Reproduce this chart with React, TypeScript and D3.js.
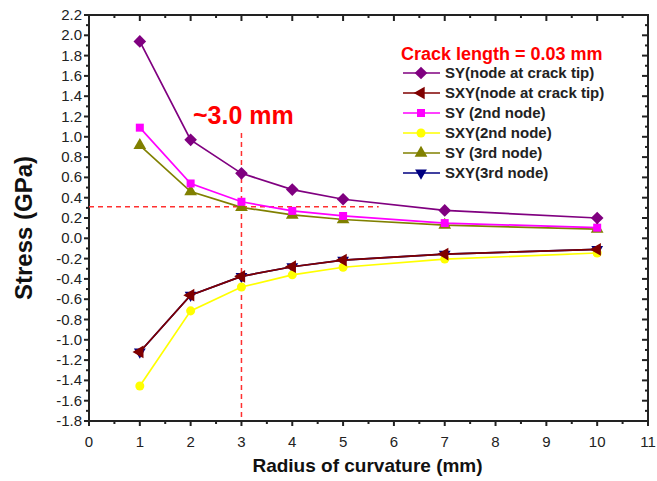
import React, { useEffect, useRef } from 'react';
import * as d3 from 'd3';

// radius of curvature (mm)
const radius = [1, 2, 3, 4, 5, 7, 10];

// stress values (GPa)
const syTip = [1.94, 0.97, 0.64, 0.48, 0.385, 0.275, 0.2];
const sxyTip = [-1.12, -0.56, -0.375, -0.28, -0.215, -0.155, -0.11];
const sy2nd = [1.09, 0.54, 0.36, 0.27, 0.22, 0.15, 0.105];
const sxy2nd = [-1.455, -0.715, -0.48, -0.36, -0.285, -0.205, -0.145];
const sy3rd = [0.915, 0.46, 0.305, 0.23, 0.185, 0.13, 0.09];
const sxy3rd = [-1.12, -0.56, -0.375, -0.28, -0.215, -0.155, -0.11];

const xTicks = [0, 1, 2, 3, 4, 5, 6, 7, 8, 9, 10, 11];
const yTicks = [
  2.2, 2.0, 1.8, 1.6, 1.4, 1.2, 1.0, 0.8, 0.6, 0.4, 0.2, 0.0,
  -0.2, -0.4, -0.6, -0.8, -1.0, -1.2, -1.4, -1.6, -1.8,
];

const cutoffRadius = 3.0;
const cutoffStress = 0.31;
const cutoffLineEnd = 5.7;

type Marker = 'diamond' | 'triLeft' | 'square' | 'circle' | 'triUp' | 'triDown';

interface Series {
  name: string;
  values: number[];
  color: string;
  marker: Marker;
}

const series: Series[] = [
  { name: 'SY(node at crack tip)', values: syTip, color: '#800080', marker: 'diamond' },
  { name: 'SXY(node at crack tip)', values: sxyTip, color: '#800000', marker: 'triLeft' },
  { name: 'SY (2nd node)', values: sy2nd, color: '#ff00ff', marker: 'square' },
  { name: 'SXY(2nd node)', values: sxy2nd, color: '#ffff00', marker: 'circle' },
  { name: 'SY (3rd node)', values: sy3rd, color: '#808000', marker: 'triUp' },
  { name: 'SXY(3rd node)', values: sxy3rd, color: '#000080', marker: 'triDown' },
];

// draw order: navy sits behind the dark red series
const drawOrder = [5, 3, 1, 4, 2, 0];

const markerPath = (m: Marker) => {
  switch (m) {
    case 'diamond':
      return { d: d3.symbol(d3.symbolSquare, 80)()!, rot: 45 };
    case 'square':
      return { d: d3.symbol(d3.symbolSquare, 64)()!, rot: 0 };
    case 'circle':
      return { d: d3.symbol(d3.symbolCircle, 64)()!, rot: 0 };
    case 'triUp':
      return { d: d3.symbol(d3.symbolTriangle, 70)()!, rot: 0 };
    case 'triDown':
      return { d: d3.symbol(d3.symbolTriangle, 60)()!, rot: 180 };
    case 'triLeft':
      return { d: d3.symbol(d3.symbolTriangle, 70)()!, rot: -90 };
  }
};

const width = 657;
const height = 481;

const Chart: React.FC = () => {
  const svgRef = useRef<SVGSVGElement>(null);

  useEffect(() => {
    if (!svgRef.current) return;
    const svg = d3.select(svgRef.current);
    svg.selectAll('*').remove();

    const left = 89, right = 648, top = 15, bottom = 421;
    const font = 'Arial, "Liberation Sans", sans-serif';
    const axisColor = '#222';

    const x = d3.scaleLinear().domain([0, 11]).range([left, right]);
    const y = d3.scaleLinear().domain([-1.8, 2.2]).range([bottom, top]);

    const fmt = (v: number) => (Math.abs(v) < 1e-9 ? '0.0' : v.toFixed(1));

    // minor ticks
    const xMinor = xTicks.slice(0, -1).map(v => v + 0.5);
    const yMinor = yTicks.slice(0, -1).map(v => v - 0.1);

    const ax = svg.append('g').attr('stroke', axisColor);
    xTicks.forEach(v => {
      ax.append('line').attr('x1', x(v)).attr('x2', x(v)).attr('y1', bottom).attr('y2', bottom + 5).attr('stroke-width', 2);
      ax.append('line').attr('x1', x(v)).attr('x2', x(v)).attr('y1', top).attr('y2', top + 6).attr('stroke-width', 2);
    });
    xMinor.forEach(v => {
      ax.append('line').attr('x1', x(v)).attr('x2', x(v)).attr('y1', bottom).attr('y2', bottom + 3).attr('stroke-width', 2);
      ax.append('line').attr('x1', x(v)).attr('x2', x(v)).attr('y1', top).attr('y2', top + 3).attr('stroke-width', 2);
    });
    yTicks.forEach(v => {
      ax.append('line').attr('x1', left - 5).attr('x2', left).attr('y1', y(v)).attr('y2', y(v)).attr('stroke-width', 2);
      ax.append('line').attr('x1', right - 6).attr('x2', right).attr('y1', y(v)).attr('y2', y(v)).attr('stroke-width', 2);
    });
    yMinor.forEach(v => {
      ax.append('line').attr('x1', left - 3).attr('x2', left).attr('y1', y(v)).attr('y2', y(v)).attr('stroke-width', 2);
      ax.append('line').attr('x1', right - 3).attr('x2', right).attr('y1', y(v)).attr('y2', y(v)).attr('stroke-width', 2);
    });
    ax.append('rect')
      .attr('x', left).attr('y', top)
      .attr('width', right - left).attr('height', bottom - top)
      .attr('fill', 'none').attr('stroke-width', 2);

    // tick labels
    svg.append('g')
      .selectAll('text')
      .data(xTicks)
      .enter()
      .append('text')
      .attr('x', d => x(d))
      .attr('y', bottom + 26)
      .attr('text-anchor', 'middle')
      .attr('font-family', font)
      .attr('font-size', 15)
      .attr('fill', '#222')
      .text(d => String(d));

    svg.append('g')
      .selectAll('text')
      .data(yTicks)
      .enter()
      .append('text')
      .attr('x', left - 7)
      .attr('y', d => y(d) + 5)
      .attr('text-anchor', 'end')
      .attr('font-family', font)
      .attr('font-size', 15)
      .attr('fill', '#222')
      .text(d => fmt(d));

    // axis titles
    svg.append('text')
      .attr('x', (left + right) / 2 - 1)
      .attr('y', 472)
      .attr('text-anchor', 'middle')
      .attr('font-family', font)
      .attr('font-weight', 'bold')
      .attr('font-size', 19)
      .attr('fill', '#111')
      .text('Radius of curvature (mm)');

    svg.append('text')
      .attr('transform', `translate(32,228) rotate(-90)`)
      .attr('text-anchor', 'middle')
      .attr('font-family', font)
      .attr('font-weight', 'bold')
      .attr('font-size', 24)
      .attr('fill', '#111')
      .text('Stress (GPa)');

    // cutoff guide lines
    svg.append('line')
      .attr('x1', left).attr('x2', x(cutoffLineEnd))
      .attr('y1', y(cutoffStress)).attr('y2', y(cutoffStress))
      .attr('stroke', '#ff3030').attr('stroke-width', 1.5)
      .attr('stroke-dasharray', '5,4');
    svg.append('line')
      .attr('x1', x(cutoffRadius)).attr('x2', x(cutoffRadius))
      .attr('y1', 133).attr('y2', bottom)
      .attr('stroke', '#ff3030').attr('stroke-width', 1.5)
      .attr('stroke-dasharray', '5,4');

    svg.append('text')
      .attr('x', 193)
      .attr('y', 124)
      .attr('font-family', font)
      .attr('font-weight', 'bold')
      .attr('font-size', 25)
      .attr('fill', '#ff0000')
      .text('~3.0 mm');

    // series
    const line = d3.line<number>()
      .x((_, i) => x(radius[i]))
      .y(d => y(d));

    drawOrder.forEach(si => {
      const s = series[si];
      const g = svg.append('g');
      g.append('path')
        .attr('d', line(s.values))
        .attr('fill', 'none')
        .attr('stroke', s.color)
        .attr('stroke-width', 1.7);
      const mk = markerPath(s.marker);
      g.selectAll('path.pt')
        .data(s.values)
        .enter()
        .append('path')
        .attr('class', 'pt')
        .attr('d', mk.d)
        .attr('transform', (d, i) => `translate(${x(radius[i])},${y(d)}) rotate(${mk.rot})`)
        .attr('fill', s.color);
    });

    // legend
    const lg = svg.append('g');
    lg.append('text')
      .attr('x', 401)
      .attr('y', 60)
      .attr('font-family', font)
      .attr('font-weight', 'bold')
      .attr('font-size', 18)
      .attr('fill', '#ff0000')
      .text('Crack length = 0.03 mm');

    series.forEach((s, i) => {
      const ly = 73 + i * 20;
      lg.append('line')
        .attr('x1', 403).attr('x2', 440)
        .attr('y1', ly).attr('y2', ly)
        .attr('stroke', s.color).attr('stroke-width', 1.7);
      const mk = markerPath(s.marker);
      lg.append('path')
        .attr('d', mk.d)
        .attr('transform', `translate(421,${ly}) rotate(${mk.rot})`)
        .attr('fill', s.color);
      lg.append('text')
        .attr('x', 445)
        .attr('y', ly + 5)
        .attr('font-family', font)
        .attr('font-weight', 'bold')
        .attr('font-size', 15)
        .attr('fill', '#222')
        .text(s.name);
    });
  }, []);

  return (
    <svg
      ref={svgRef}
      width={width}
      height={height}
      style={{ position: 'absolute', left: 0, top: 0, background: '#fff' }}
    />
  );
};

export default function App() {
  return <Chart />;
}
